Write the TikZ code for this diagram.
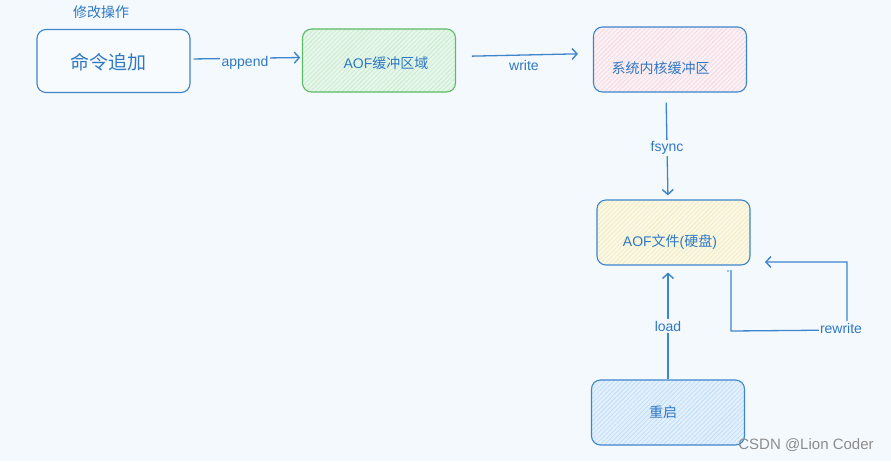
\documentclass[tikz,border=0pt]{standalone}
\usepackage{fontspec}
\setmainfont{Liberation Sans}
\newfontfamily\cjk{Noto Sans CJK SC}
\usetikzlibrary{arrows.meta,patterns.meta}
\definecolor{bg}{HTML}{F4F9FD}
\definecolor{ink}{HTML}{2F78C4}
\definecolor{edge}{HTML}{3D85CC}
\definecolor{greenedge}{HTML}{5CBB66}
\definecolor{gfill}{HTML}{E6F7EA}\definecolor{gline}{HTML}{C5EACD}
\definecolor{pfill}{HTML}{FBF0F4}\definecolor{pline}{HTML}{F3D6E0}
\definecolor{yfill}{HTML}{FAF8E4}\definecolor{yline}{HTML}{F0EBBD}
\definecolor{bfill}{HTML}{E2F0FD}\definecolor{bline}{HTML}{BCDBF6}
\tikzset{
  box/.style={draw=edge,line width=1.1pt,rounded corners=9pt,minimum width=153pt,minimum height=63pt,text=ink,inner sep=0pt},
  hatch/.style 2 args={preaction={fill=#1},pattern={Lines[angle=45,distance=3.2pt,line width=0.6pt]},pattern color=#2},
  conn/.style={draw=edge,line width=1.3pt,-{Straight Barb[length=5pt,width=11pt,line width=1.4pt]}},
  lab/.style={fill=bg,text=ink,font=\fontsize{14}{16}\selectfont,inner sep=1.5pt},
  txt/.style={text=ink,font=\fontsize{14}{16}\selectfont}
}
\begin{document}
\begin{tikzpicture}[x=1pt,y=-1pt]
\fill[bg] (0,0) rectangle (891,461);
\useasboundingbox (0,0) rectangle (891,461);
\node[txt,font=\fontsize{14}{16}\selectfont\cjk] (op) at (101,12) {修改操作};
\node[box,fill=white!40!bg] (cmd) at (113.5,61) {};
\node[txt,font=\fontsize{19}{21}\selectfont\cjk] (cmdt) at (108.5,62) {命令追加};
\node[box,draw=greenedge,hatch={gfill}{gline}] (aof) at (379,60.5) {};
\node[txt] (aoft) at (386,63) {AOF{\cjk 缓冲区域}};
\node[box,hatch={pfill}{pline},minimum height=65pt] (sys) at (670,59.5) {};
\node[txt,font=\fontsize{14}{16}\selectfont\cjk] (syst) at (660.5,68) {系统内核缓冲区};
\node[box,hatch={yfill}{yline},minimum height=65pt] (file) at (673.5,232.5) {};
\node[txt] (filet) at (670,242) {AOF{\cjk 文件}({\cjk 硬盘})};
\node[box,hatch={bfill}{bline},minimum height=65pt] (rst) at (668,412.5) {};
\node[txt,font=\fontsize{14}{16}\selectfont\cjk] (rstt) at (663,412) {重启};
% connectors
\draw[conn,shorten <=3pt,shorten >=2pt] ([yshift=2pt]cmd.east) -- ([yshift=3pt]aof.west);
\node[lab] (l1) at (245,63) {append};
\draw[conn,shorten <=16pt,shorten >=15pt] ([yshift=4pt]aof.east) -- ([yshift=6pt]sys.west);
\node[lab] (l2) at (524,65) {write};
\draw[conn,shorten <=10pt,shorten >=4pt] ([xshift=-4pt]sys.south) -- ([xshift=-5.5pt]file.north);
\node[lab] (l3) at (667,148) {fsync};
\draw[conn,shorten >=7pt] ([xshift=0pt]rst.north) -- ([xshift=-5.5pt]file.south);
\node[lab] (l4) at (668,326) {load};
\coordinate (r0) at (731,270);
\coordinate (r1) at (731,331);
\coordinate (r2) at (847,330);
\coordinate (r3) at (847,262);
\coordinate (r4) at (765,262);
\draw[conn] (r0) -- (r1) -- (r2) -- (r3) -- (r4);
\node[lab] (l5) at (841,328) {rewrite};
\fill[edge] (728,271) circle (0.8pt);
\node[text=gray!90,font=\fontsize{15}{17}\selectfont] (wm) at (806,445) {CSDN @Lion Coder};
\end{tikzpicture}
\end{document}
